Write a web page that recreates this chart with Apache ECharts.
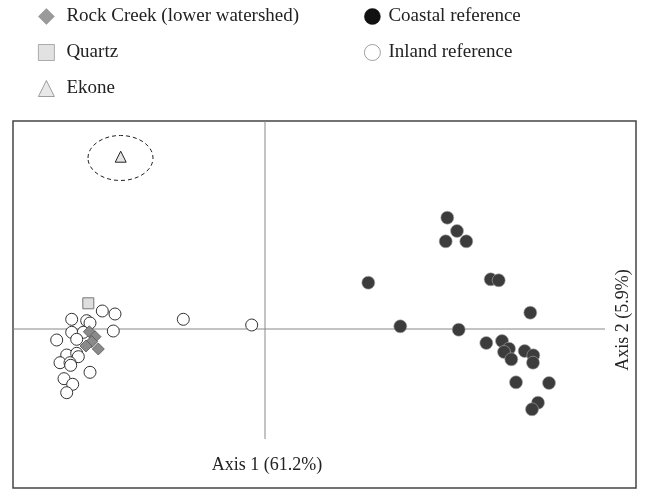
<!DOCTYPE html>
<html>
<head>
<meta charset="utf-8">
<script src="https://cdn.jsdelivr.net/npm/echarts@6/dist/echarts.min.js"></script>
<style>html,body{margin:0;padding:0;background:#fff}#c{width:651px;height:497px}</style>
</head>
<body>
<div id="c"></div>
<script>
// Ordination scores (Axis 1, Axis 2)
var rockCreek = [[-1.757,-0.027],[-1.700,-0.077],[-1.733,-0.127],[-1.790,-0.170],[-1.667,-0.200]];
var quartz = [[-1.767,0.257]];
var ekone = [[-1.443,1.723]];
var coastal = [[1.823,1.113],[1.920,0.980],[1.807,0.877],[2.013,0.877],[1.033,0.463],[2.257,0.497],[2.337,0.487],[2.653,0.163],[1.353,0.027],[1.937,-0.007],[2.213,-0.140],[2.370,-0.120],[2.440,-0.197],[2.390,-0.230],[2.463,-0.303],[2.597,-0.220],[2.683,-0.263],[2.680,-0.337],[2.510,-0.533],[2.840,-0.540],[2.730,-0.737],[2.670,-0.803]];
var inland = [[-1.627,0.180],[-1.500,0.150],[-1.933,0.097],[-1.783,0.083],[-1.750,0.060],[-1.517,-0.020],[-1.933,-0.033],[-1.817,-0.033],[-1.883,-0.103],[-2.083,-0.110],[-1.983,-0.260],[-1.883,-0.243],[-1.867,-0.277],[-2.050,-0.337],[-1.950,-0.337],[-1.943,-0.363],[-1.750,-0.433],[-2.010,-0.497],[-1.923,-0.553],[-1.983,-0.637],[-0.817,0.097],[-0.133,0.040]];
var xRange = [-2.52, 3.71];
var yRange = [-1.59, 2.08];
var axis1Line = [[-2.52,0],[3.40,0]];
var axis2Line = [[0,2.08],[0,-1.10]];
var ekoneCircleCenter = [-1.445, 1.71];
var legendLeft = ['Rock Creek (lower watershed)','Quartz','Ekone'];
var legendRight = ['Coastal reference','Inland reference'];
var axis1Title = 'Axis 1 (61.2%)';
var axis2Title = 'Axis 2 (5.9%)';

var FONT = '"Liberation Serif","Times New Roman",serif';
var legendStyles = {
  'Rock Creek (lower watershed)':{color:'#9a9a9a',borderColor:'#888',borderWidth:0.5},
  'Quartz':{color:'#e2e2e2',borderColor:'#999',borderWidth:0.8},
  'Ekone':{color:'#e8e8e8',borderColor:'#888',borderWidth:0.8},
  'Coastal reference':{color:'#111',borderColor:'#111',borderWidth:0.5},
  'Inland reference':{color:'#fff',borderColor:'#888',borderWidth:0.8}
};
function legendData(names){return names.map(function(n){return {name:n,itemStyle:legendStyles[n]};});}

var chart = echarts.init(document.getElementById('c'), null, {renderer:'canvas'});
var option = {
  animation:false,
  backgroundColor:'#fff',
  grid:{left:13,right:15,top:121,bottom:9,show:true,borderColor:'#444',borderWidth:1.5,backgroundColor:'transparent'},
  xAxis:{type:'value',min:xRange[0],max:xRange[1],axisLine:{show:false},axisTick:{show:false},axisLabel:{show:false},splitLine:{show:false}},
  yAxis:{type:'value',min:yRange[0],max:yRange[1],axisLine:{show:false},axisTick:{show:false},axisLabel:{show:false},splitLine:{show:false}},
  legend:[
    {orient:'vertical',left:38,top:7,padding:0,itemWidth:16,itemHeight:16,itemGap:17,data:legendData(legendLeft),
     textStyle:{fontFamily:FONT,fontSize:19,color:'#222',padding:[0,0,0,7]},selectedMode:false},
    {orient:'vertical',left:364,top:7,padding:0,itemWidth:16,itemHeight:16,itemGap:17,data:legendData(legendRight),
     textStyle:{fontFamily:FONT,fontSize:19,color:'#222',padding:[0,0,0,3]},selectedMode:false}
  ],
  series:[
    {type:'line',data:axis1Line,symbol:'none',silent:true,lineStyle:{color:'#888',width:1},z:1},
    {type:'line',data:axis2Line,symbol:'none',silent:true,lineStyle:{color:'#888',width:1},z:1},
    {name:'Inland reference',type:'scatter',data:inland,symbol:'circle',symbolSize:12,z:3,
     itemStyle:{color:'#fff',borderColor:'#333',borderWidth:1,opacity:1}},
    {name:'Coastal reference',type:'scatter',data:coastal,symbol:'circle',symbolSize:13,z:3,
     itemStyle:{color:'#3c3c3c',borderColor:'#aaa',borderWidth:0.6,opacity:1}},
    {name:'Rock Creek (lower watershed)',type:'scatter',data:rockCreek,symbol:'diamond',symbolSize:12,z:4,
     itemStyle:{color:'#8a8a8a',borderColor:'#555',borderWidth:0.8,opacity:1}},
    {name:'Quartz',type:'scatter',data:quartz,symbol:'rect',symbolSize:11,z:4,
     itemStyle:{color:'#dedede',borderColor:'#777',borderWidth:1,opacity:1}},
    {name:'Ekone',type:'scatter',data:ekone,symbol:'triangle',symbolSize:11,z:4,
     itemStyle:{color:'#e6e6e6',borderColor:'#222',borderWidth:1,opacity:1}}
  ]
};
chart.setOption(option);
var c = chart.convertToPixel({gridIndex:0}, ekoneCircleCenter);
chart.setOption({graphic:[
  {type:'ellipse',shape:{cx:c[0],cy:c[1],rx:32.5,ry:22.5},style:{fill:'none',stroke:'#222',lineWidth:1,lineDash:[4,3]},z:5},
  {type:'text',x:267,y:465,style:{text:axis1Title,font:'18px '+FONT,fill:'#222',align:'center',verticalAlign:'middle'}},
  {type:'text',x:623,y:320,rotation:Math.PI/2,style:{text:axis2Title,font:'18px '+FONT,fill:'#222',align:'center',verticalAlign:'middle'}}
]});
</script>
</body>
</html>
